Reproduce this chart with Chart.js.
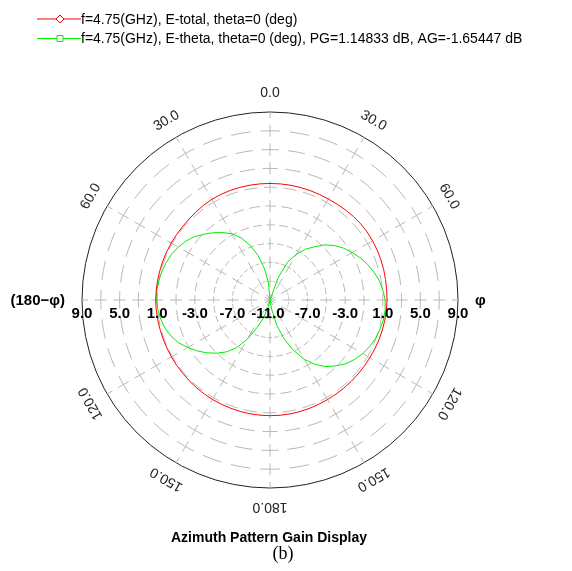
<!DOCTYPE html>
<html>
<head>
<meta charset="utf-8">
<script src="https://cdn.jsdelivr.net/npm/chart.js@4.4.1/dist/chart.umd.min.js"></script>
<style>
  html, body { margin: 0; padding: 0; background: #fff; }
  #wrap { width: 572px; height: 571px; position: relative; }
</style>
</head>
<body>
<div id="wrap"><canvas id="polarChart"></canvas></div>
<script>
// azimuth angle (deg), clockwise from top
var angles = [0, 5, 10, 15, 20, 25, 30, 35, 40, 45, 50, 55, 60, 65, 70, 75, 80, 85,
  90, 95, 100, 105, 110, 115, 120, 125, 130, 135, 140, 145, 150, 155, 160, 165, 170, 175,
  180, 185, 190, 195, 200, 205, 210, 215, 220, 225, 230, 235, 240, 245, 250, 255, 260, 265,
  270, 275, 280, 285, 290, 295, 300, 305, 310, 315, 320, 325, 330, 335, 340, 345, 350, 355];

// gain in dB
var eTotal = [1.40, 1.40, 1.40, 1.40, 1.40, 1.40, 1.41, 1.45, 1.50, 1.56, 1.60, 1.61, 1.60, 1.58, 1.55, 1.52, 1.48, 1.46,
  1.45, 1.43, 1.40, 1.37, 1.34, 1.30, 1.27, 1.25, 1.24, 1.23, 1.23, 1.23, 1.23, 1.25, 1.27, 1.29, 1.30, 1.31,
  1.31, 1.30, 1.29, 1.27, 1.25, 1.24, 1.23, 1.20, 1.17, 1.15, 1.13, 1.12, 1.11, 1.10, 1.10, 1.11, 1.13, 1.15,
  1.16, 1.15, 1.14, 1.13, 1.13, 1.13, 1.13, 1.13, 1.14, 1.18, 1.24, 1.31, 1.37, 1.39, 1.40, 1.40, 1.40, 1.40];

var eTheta = [-11, -11, -11, -11, -8.5, -6.5, -5.4, -4.4, -3.6, -2.7, -2.0, -1.4, -0.9, -0.4, 0.05, 0.45, 0.8, 1.05,
  1.25, 1.3, 1.25, 1.1, 0.95, 0.7, 0.4, 0.0, -0.45, -1.1, -1.75, -2.65, -3.7, -5.1, -6.6, -8.2, -10.0, -11,
  -11, -11, -11, -10.2, -9.0, -7.8, -6.2, -4.8, -3.8, -3.0, -2.25, -1.55, -0.9, -0.25, 0.2, 0.57, 0.8, 0.97,
  1.05, 1.08, 1.0, 0.9, 0.73, 0.55, 0.25, -0.08, -0.5, -1.1, -1.65, -2.25, -2.85, -3.7, -4.8, -6.1, -7.6, -9.2];

var seriesNames = ['f=4.75(GHz), E-total, theta=0 (deg)',
  'f=4.75(GHz), E-theta, theta=0 (deg), PG=1.14833 dB, AG=-1.65447 dB'];
var seriesColors = ['#ff0000', '#00ee00'];

var gainTicks = [9, 5, 1, -3, -7, -11];
var angleTicks = [0, 30, 60, 120, 150, 180, 210, 240, 300, 330];
var angleTickLabels = ['0.0', '30.0', '60.0', '120.0', '150.0', '180.0', '150.0', '120.0', '60.0', '30.0'];

var overlay = {
  id: 'overlay',
  afterDraw: function(chart) {
    var ctx = chart.ctx;
    var r = chart.scales.r;
    var cx = r.xCenter, cy = r.yCenter;
    ctx.save();

    // gain labels along horizontal axis
    ctx.fillStyle = '#000';
    ctx.font = 'bold 15px "Liberation Sans", Arial, sans-serif';
    ctx.textAlign = 'center';
    ctx.textBaseline = 'middle';
    gainTicks.forEach(function(v) {
      var d = r.getDistanceFromCenterForValue(v);
      var t = v.toFixed(1);
      if (d < 1) {
        ctx.fillText(t, cx - 2, cy + 14);
      } else {
        ctx.fillText(t, cx - d, cy + 14);
        ctx.fillText(t, cx + d, cy + 14);
      }
    });

    // axis names
    ctx.textAlign = 'left';
    ctx.fillText('φ', cx + r.drawingArea + 17, cy + 1);
    ctx.textAlign = 'right';
    ctx.fillText('(180−φ)', cx - r.drawingArea - 17, cy + 1);

    // angle labels, rotated tangentially
    ctx.font = '14px "Liberation Sans", Arial, sans-serif';
    ctx.fillStyle = '#222';
    ctx.textAlign = 'center';
    angleTicks.forEach(function(a, k) {
      var p = r.getPointPosition(angles.indexOf(a), r.drawingArea + 19);
      ctx.save();
      ctx.translate(p.x, p.y);
      ctx.rotate(a * Math.PI / 180);
      ctx.fillText(angleTickLabels[k], 0, 0);
      ctx.restore();
    });

    // legend
    ctx.font = '14px "Liberation Sans", Arial, sans-serif';
    ctx.fillStyle = '#000';
    ctx.textAlign = 'left';
    chart.data.datasets.forEach(function(ds, i) {
      var y = 19 + i * 19.5;
      ctx.strokeStyle = ds.borderColor;
      ctx.lineWidth = 1;
      ctx.beginPath();
      ctx.moveTo(37, y);
      ctx.lineTo(81, y);
      ctx.stroke();
      ctx.fillStyle = '#fff';
      ctx.beginPath();
      if (i === 0) {
        ctx.moveTo(60, y - 4); ctx.lineTo(64, y); ctx.lineTo(60, y + 4); ctx.lineTo(56, y);
        ctx.closePath();
      } else {
        ctx.rect(57, y - 3, 6, 6);
      }
      ctx.fill();
      ctx.stroke();
      ctx.fillStyle = '#000';
      ctx.fillText(ds.label, 81, y + 1);
    });

    // title and caption
    ctx.textAlign = 'center';
    ctx.font = 'bold 14px "Liberation Sans", Arial, sans-serif';
    ctx.fillText('Azimuth Pattern Gain Display', 269, 538);
    ctx.font = '18px "Liberation Serif", "Times New Roman", serif';
    ctx.fillText('(b)', 283, 554);
    ctx.restore();
  }
};

function ringDash(c) {
  if (c.tick.value === 9) return [];
  var rad = c.scale.getDistanceFromCenterForValue(c.tick.value);
  if (rad < 1) return [];
  var period = 2 * Math.PI * rad / 36;
  return [period * 2 / 3, period / 3];
}

function ringDashOffset(c) {
  var rad = c.scale.getDistanceFromCenterForValue(c.tick.value);
  return 2 * Math.PI * rad / 36 / 3;
}

var ctx1 = document.getElementById('polarChart').getContext('2d');
var polarChart = new Chart(ctx1, {
  type: 'radar',
  data: {
    labels: angles,
    datasets: [{
      label: seriesNames[0],
      data: eTotal,
      borderColor: seriesColors[0],
      backgroundColor: 'transparent',
      borderWidth: 1,
      pointRadius: 0,
      fill: false
    }, {
      label: seriesNames[1],
      data: eTheta,
      borderColor: seriesColors[1],
      backgroundColor: 'transparent',
      borderWidth: 1,
      pointRadius: 0,
      fill: false
    }]
  },
  options: {
    responsive: true,
    maintainAspectRatio: false,
    animation: false,
    layout: { padding: { left: 82, right: 113, top: 112, bottom: 82 } },
    elements: { line: { tension: 0 } },
    plugins: {
      legend: { display: false },
      title: { display: false },
      tooltip: { enabled: false }
    },
    scales: {
      r: {
        min: -11,
        max: 9,
        ticks: { stepSize: 2, display: false },
        pointLabels: { display: false },
        grid: {
          circular: true,
          color: function(c) { return c.tick.value === 9 ? '#222' : '#b8b8b8'; },
          lineWidth: 1
        },
        border: { dash: ringDash, dashOffset: ringDashOffset },
        angleLines: {
          color: '#b8b8b8',
          lineWidth: function(c) { return c.index % 6 === 0 ? 1 : 0; },
          borderDash: [12, 6.8],
          borderDashOffset: 6
        }
      }
    }
  },
  plugins: [overlay]
});
</script>
</body>
</html>
